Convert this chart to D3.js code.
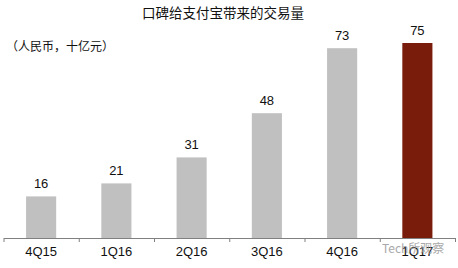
<!DOCTYPE html>
<html>
<head>
<meta charset="utf-8">
<script src="https://cdn.jsdelivr.net/npm/d3@7"></script>
<style>
  body { margin: 0; background: #fff; }
  svg { display: block; }
</style>
</head>
<body>
<div class="graph"></div>
<script>
const quarters = ["4Q15", "1Q16", "2Q16", "3Q16", "4Q16", "1Q17"]
const volumes = [16, 21, 31, 48, 73, 75]
const barColors = ["#c0c0c0", "#c0c0c0", "#c0c0c0", "#c0c0c0", "#c0c0c0", "#7a1c0b"]
const title = "口碑给支付宝带来的交易量"
const unitLabel = "（人民币，十亿元）"
const watermark = "Tech所观察"

const width = 458
const height = 268
const margin = ({top: 43, right: 3, bottom: 30, left: 3.5})
const baseY = height - margin.bottom

const data = quarters.map((q, i) => ({q: q, v: volumes[i], c: barColors[i]}))

const x = d3.scaleBand()
  .domain(quarters)
  .range([margin.left, width - margin.right])
  .paddingInner(0.6)
  .paddingOuter(0.3)

// tick marks sit on the category borders
const xb = d3.scaleLinear()
  .domain([0, quarters.length])
  .range([margin.left, width - margin.right])

const y = d3.scaleLinear()
  .domain([0, 75])
  .range([baseY, margin.top])

const svg = d3.select(".graph").append("svg")
  .attr("width", width)
  .attr("height", height)

svg.append("text")
  .attr("x", 223)
  .attr("y", 18)
  .attr("text-anchor", "middle")
  .style("font-family", "'Noto Sans CJK SC', sans-serif")
  .style("font-size", "13.5px")
  .style("fill", "#111")
  .text(title)

svg.append("text")
  .attr("x", 6)
  .attr("y", 51)
  .style("font-family", "'Noto Sans CJK SC', sans-serif")
  .style("font-size", "12px")
  .style("fill", "#111")
  .text(unitLabel)

svg.selectAll("rect.bar")
  .data(data)
  .join("rect")
    .attr("class", "bar")
    .attr("x", d => x(d.q))
    .attr("y", d => y(d.v))
    .attr("width", x.bandwidth())
    .attr("height", d => baseY - y(d.v))
    .attr("fill", d => d.c)

svg.selectAll("text.val")
  .data(data)
  .join("text")
    .attr("class", "val")
    .attr("x", d => x(d.q) + x.bandwidth() / 2)
    .attr("y", d => y(d.v) - 8)
    .attr("text-anchor", "middle")
    .style("font-family", "Arial, 'Liberation Sans', sans-serif")
    .style("font-size", "13px")
    .style("fill", "#111")
    .text(d => d.v)

// axis line + border ticks
svg.append("g")
  .attr("transform", `translate(0,${baseY})`)
  .call(d3.axisBottom(xb).tickValues(d3.range(quarters.length + 1)).tickSize(4).tickSizeOuter(0).tickFormat(""))
  .call(g => g.selectAll("line, path").attr("stroke", "#808080"))

// category labels
svg.append("g")
  .attr("transform", `translate(0,${baseY})`)
  .call(d3.axisBottom(x).tickSize(0).tickPadding(9))
  .call(g => g.select(".domain").remove())
  .call(g => g.selectAll("text")
    .style("font-family", "Arial, 'Liberation Sans', sans-serif")
    .style("font-size", "13px")
    .style("fill", "#111"))

svg.append("text")
  .attr("x", 382)
  .attr("y", 253)
  .style("font-family", "'Noto Sans CJK SC', sans-serif")
  .style("font-size", "12px")
  .style("fill", "#9a9a9a")
  .style("opacity", 0.85)
  .text(watermark)
</script>
</body>
</html>
